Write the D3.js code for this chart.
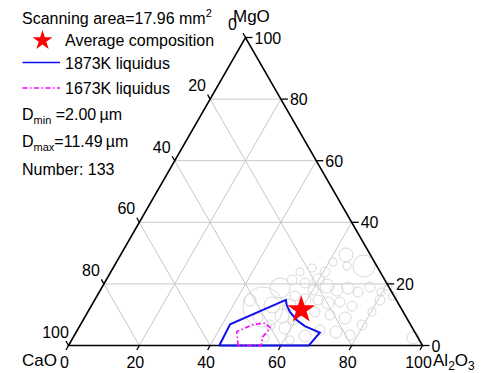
<!DOCTYPE html>
<html><head><meta charset="utf-8">
<script src="https://cdn.jsdelivr.net/npm/d3@7"></script>
<style>
body{margin:0;background:#fff}
svg{display:block;font-family:Arial,"Liberation Sans",sans-serif}
</style>
</head><body>
<svg id="chart" width="482" height="373"></svg>
<script>
// Ternary CaO–MgO–Al2O3 diagram, compositions in mass %
const tickValues = [0, 20, 40, 60, 80, 100];
const gridValues = [20, 40, 60, 80];

// Average inclusion composition
const avgAl2O3 = 59.8, avgMgO = 11.9;

// 1873 K liquidus boundary (Al2O3 %, MgO %)
const liq1873Al2O3 = [42.6, 42.2, 54.0, 55.1, 57.1, 60.3, 63.6, 68.9, 67.9, 42.6];
const liq1873MgO   = [0.0, 6.9, 14.8, 13.1, 10.9, 8.3, 6.3, 4.2, 0.0, 0.0];

// 1673 K liquidus boundary (Al2O3 %, MgO %)
const liq1673Al2O3 = [47.9, 45.3, 48.5, 51.9, 54.1, 53.5, 54.4, 47.9];
const liq1673MgO   = [0.0, 4.5, 6.7, 7.3, 5.7, 2.8, 0.0, 0.0];

// Individual inclusions: composition (Al2O3 %, MgO %) and diameter (um)
const incAl2O3 = [63.70, 65.76, 70.56, 61.16, 63.36, 66.84, 69.61, 73.09, 75.67, 79.59,
                  80.59, 59.85, 56.66, 60.06, 55.94, 59.42, 63.09, 66.41, 69.63, 73.67,
                  68.92, 73.65, 64.19, 59.96, 56.00, 48.69, 50.41, 50.92, 55.52, 53.59,
                  58.32, 49.07, 43.88, 59.28, 65.27, 68.53, 73.37, 77.82, 79.58, 80.29,
                  80.60, 83.50, 96.10, 61.68, 54.29, 52.51, 53.47, 60.53, 56.21];
const incMgO   = [29.38, 25.81, 25.81, 27.11, 19.32, 18.02, 18.67, 17.37, 18.99, 17.37,
                  19.32, 21.27, 20.29, 18.02, 16.07, 14.77, 14.77, 13.80, 14.12, 12.82,
                  9.90, 8.93, 10.88, 10.88, 13.15, 12.50, 18.67, 13.15, 9.58, 6.66,
                  5.68, 8.93, 14.77, 8.28, 3.08, 5.03, 4.38, 3.41, 6.66, 10.88,
                  14.77, 16.07, 2.44, 1.79, 2.44, 21.27, 23.86, 23.86, 25.16];
const incDiam  = [4.02, 2.30, 6.32, 2.30, 4.02, 3.45, 3.45, 2.87, 2.87, 2.30,
                  2.30, 3.45, 2.87, 2.87, 2.87, 3.45, 2.87, 3.45, 2.87, 2.87,
                  2.87, 3.45, 2.87, 2.30, 3.45, 11.49, 5.75, 4.60, 4.02, 2.87,
                  3.45, 2.87, 3.45, 2.87, 3.45, 2.87, 3.45, 2.87, 2.87, 2.30,
                  2.87, 2.30, 3.45, 2.30, 2.30, 2.87, 2.30, 2.87, 2.30];

const svg = d3.select("#chart");

// Geometry of the triangle
const x0 = 68.5;
const along = d3.scaleLinear([0, 100], [0, 354]);     // distance along the base
const yMg = d3.scaleLinear([0, 100], [345.5, 37.5]);  // height from MgO content
const rDiam = d3.scaleLinear([0, 11.49], [0, 20]);

function pt(al, mg) { return [x0 + along(al + mg / 2), yMg(mg)]; }

const gridColor = "#c8c8c8";
const gGrid = svg.append("g").attr("stroke", gridColor).attr("stroke-width", 1).attr("fill", "none");
gridValues.forEach(v => {
  // constant MgO
  let a = pt(0, v), b = pt(100 - v, v);
  gGrid.append("line").attr("x1", a[0]).attr("y1", a[1]).attr("x2", b[0]).attr("y2", b[1]);
  // constant Al2O3
  a = pt(v, 0); b = pt(v, 100 - v);
  gGrid.append("line").attr("x1", a[0]).attr("y1", a[1]).attr("x2", b[0]).attr("y2", b[1]);
  // constant CaO
  a = pt(100 - v, 0); b = pt(0, 100 - v);
  gGrid.append("line").attr("x1", a[0]).attr("y1", a[1]).attr("x2", b[0]).attr("y2", b[1]);
});

// Inclusion circles
svg.append("g").selectAll("circle")
  .data(d3.range(incAl2O3.length))
  .join("circle")
  .attr("cx", i => pt(incAl2O3[i], incMgO[i])[0])
  .attr("cy", i => pt(incAl2O3[i], incMgO[i])[1])
  .attr("r", i => rDiam(incDiam[i]))
  .attr("fill", "none")
  .attr("stroke", "#d9d9d9")
  .attr("stroke-width", 1);

// Triangle frame
const A = pt(0, 0), B = pt(100, 0), C = pt(0, 100);
svg.append("path")
  .attr("d", `M${A}L${B}L${C}Z`)
  .attr("fill", "none").attr("stroke", "#000").attr("stroke-width", 1.6);

// Ticks and labels
const gT = svg.append("g").attr("font-size", 16).attr("fill", "#000");
tickValues.forEach(v => {
  // base: Al2O3
  let p = pt(v, 0);
  gT.append("line").attr("x1", p[0]).attr("y1", p[1]).attr("x2", p[0] - 2.5).attr("y2", p[1] + 4.5).attr("stroke", "#000").attr("stroke-width", 1.3);
  gT.append("text").attr("x", p[0] - 4).attr("y", p[1] + 22).attr("text-anchor", "middle").text(v);
  // right side: MgO
  p = pt(100 - v, v);
  gT.append("line").attr("x1", p[0]).attr("y1", p[1]).attr("x2", p[0] + 7).attr("y2", p[1]).attr("stroke", "#000").attr("stroke-width", 1.3);
  gT.append("text").attr("x", p[0] + 9).attr("y", p[1] + 6).text(v);
  // left side: CaO
  p = pt(0, 100 - v);
  gT.append("line").attr("x1", p[0]).attr("y1", p[1]).attr("x2", p[0] - 2.5).attr("y2", p[1] - 4.5).attr("stroke", "#000").attr("stroke-width", 1.3);
  gT.append("text").attr("x", p[0] - 13).attr("y", p[1] - 8).attr("text-anchor", "middle").text(v);
});

// Corner names
const gN = svg.append("g").attr("font-size", 17).attr("fill", "#000");
gN.append("text").attr("x", 233).attr("y", 22).text("MgO");
gN.append("text").attr("x", 22).attr("y", 366).text("CaO");
const al = gN.append("text").attr("x", 433).attr("y", 366);
al.append("tspan").text("Al");
al.append("tspan").attr("font-size", 12).attr("dy", 4).text("2");
al.append("tspan").attr("dy", -4).text("O");
al.append("tspan").attr("font-size", 12).attr("dy", 4).text("3");

// Liquidus lines
const line = d3.line();
svg.append("path")
  .attr("d", line(liq1873Al2O3.map((a, i) => pt(a, liq1873MgO[i]))))
  .attr("fill", "none").attr("stroke", "#1010f0").attr("stroke-width", 2);
svg.append("path")
  .attr("d", line(liq1673Al2O3.map((a, i) => pt(a, liq1673MgO[i]))))
  .attr("fill", "none").attr("stroke", "#ff00ff").attr("stroke-width", 1.6)
  .attr("stroke-dasharray", "5,2.5,1.5,2.5");

// Average composition star
const starR = 14.5;
const star = d3.symbol(d3.symbolStar, starR * starR / 0.8908130915292852);
const sp = pt(avgAl2O3, avgMgO);
svg.append("path").attr("d", star()).attr("transform", `translate(${sp[0]},${sp[1] + 1})`).attr("fill", "#ff0000");

// Legend
const gL = svg.append("g").attr("font-size", 16).attr("fill", "#000");
const t0 = gL.append("text").attr("x", 22).attr("y", 24);
t0.append("tspan").text("Scanning area=17.96 mm");
t0.append("tspan").attr("font-size", 11).attr("dy", -7).text("2");
const legStarR = 10.5;
gL.append("path").attr("d", d3.symbol(d3.symbolStar, legStarR * legStarR / 0.8908130915292852)())
  .attr("transform", "translate(42.5,40.5)").attr("fill", "#ff0000");
gL.append("text").attr("x", 65).attr("y", 45.5).text("Average composition");
gL.append("line").attr("x1", 22.5).attr("x2", 60).attr("y1", 62.5).attr("y2", 62.5).attr("stroke", "#1010f0").attr("stroke-width", 1.6);
gL.append("text").attr("x", 65).attr("y", 68.5).text("1873K liquidus");
gL.append("line").attr("x1", 22.5).attr("x2", 60).attr("y1", 88).attr("y2", 88).attr("stroke", "#ff00ff").attr("stroke-width", 1.3).attr("stroke-dasharray", "5,2.5,1.5,2.5");
gL.append("text").attr("x", 65).attr("y", 93.5).text("1673K liquidus");
const t1 = gL.append("text").attr("x", 22).attr("y", 120);
t1.append("tspan").text("D");
t1.append("tspan").attr("font-size", 11).attr("dy", 4).text("min");
t1.append("tspan").attr("dy", -4).text(" =2.00\u2009\u00b5m");
const t2 = gL.append("text").attr("x", 22).attr("y", 147);
t2.append("tspan").text("D");
t2.append("tspan").attr("font-size", 11).attr("dy", 4).text("max");
t2.append("tspan").attr("dy", -4).text("=11.49\u2009\u00b5m");
gL.append("text").attr("x", 22).attr("y", 175).text("Number: 133");
</script>
</body></html>
